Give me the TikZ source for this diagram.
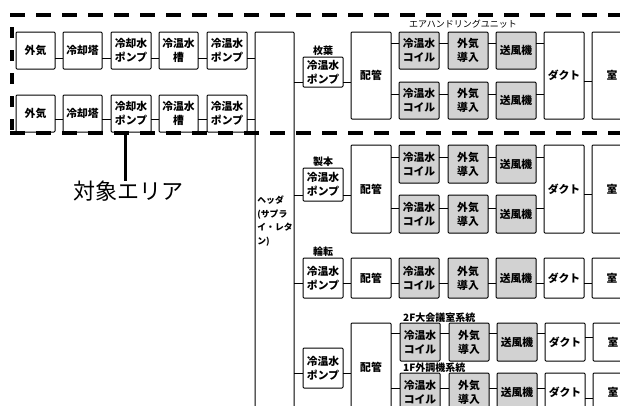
\documentclass[tikz,border=0pt]{standalone}
\usepackage{fontspec}
\newfontfamily\jp{Noto Sans CJK JP}
\tikzset{
  box/.style={draw, line width=1pt, rounded corners=1pt, inner sep=0pt, outer sep=0pt, align=center,
    font=\jp\bfseries\fontsize{10.8}{14}\selectfont},
  shd/.style={box, fill=gray!35},
  conn/.style={draw, line width=0.9pt},
  lbl/.style={inner sep=0pt, font=\jp\bfseries\fontsize{10}{12}\selectfont},
  border/.style={line width=3.5pt, dash pattern=on 15pt off 11pt},
}
\newcommand\Bx[7]{%
  \pgfmathsetmacro\bxX{(#3+#5)/2}\pgfmathsetmacro\bxY{(#4+#6)/2}%
  \pgfmathsetmacro\bxW{#5-#3}\pgfmathsetmacro\bxH{#6-#4}%
  \node[#1, minimum width=\bxW pt, minimum height=\bxH pt] (#2) at (\bxX,\bxY) {#7};}
\newcommand\Ln[3]{\draw[conn] (#1.east |- #3) -- (#2.west |- #3);}
\begin{document}
\begin{tikzpicture}[x=1pt,y=-1pt]
\useasboundingbox[fill=white] (0,0) rectangle (620,405);
% named heights
\foreach \n/\v in {a/58,b/119,c/82,d/43,e/94,f/81,g/195,h/157,i/208,j/194,k/283,l/373,m/333,n/388,o/337,p/398}
  \coordinate (Y\n) at (0,\v);
% left rows
\Bx{box}{ga1}{16}{32}{55}{69}{外気}
\Bx{box}{ct1}{63}{32}{102}{69}{冷却塔}
\Bx{box}{cp1}{111}{32}{151}{69}{冷却水\\ポンプ}
\Bx{box}{tk1}{159}{32}{198}{69}{冷温水\\槽}
\Bx{box}{hp1}{207}{32}{247}{69}{冷温水\\ポンプ}
\Bx{box}{ga2}{16}{95}{55}{132}{外気}
\Bx{box}{ct2}{63}{95}{102}{132}{冷却塔}
\Bx{box}{cp2}{111}{95}{151}{132}{冷却水\\ポンプ}
\Bx{box}{tk2}{159}{95}{198}{132}{冷温水\\槽}
\Bx{box}{hp2}{207}{95}{247}{132}{冷温水\\ポンプ}
% header
\Bx{box}{hd}{255}{32}{294}{412}{}
\node[align=left, inner sep=0pt, font=\jp\bfseries\fontsize{8.8}{13.5}\selectfont] (hdt) at ([xshift=0.5pt,yshift=1pt]hd.center) {ヘッダ\\(サプラ\\イ・レタ\\ン)};
\Ln{ga1}{ct1}{Ya}\Ln{ct1}{cp1}{Ya}\Ln{cp1}{tk1}{Ya}\Ln{tk1}{hp1}{Ya}\Ln{hp1}{hd}{Ya}
\Ln{ga2}{ct2}{Yb}\Ln{ct2}{cp2}{Yb}\Ln{cp2}{tk2}{Yb}\Ln{tk2}{hp2}{Yb}\Ln{hp2}{hd}{Yb}
% group 1
\Bx{box}{p1}{303}{57}{343}{87}{冷温水\\ポンプ}
\node[lbl, anchor=south] (l1) at ([yshift=1pt]p1.north) {枚葉};
\Bx{box}{h1}{351}{32}{391}{119}{配管}
\Bx{shd}{c1a}{399}{32}{439}{69}{冷温水\\コイル}
\Bx{shd}{o1a}{448}{32}{488}{69}{外気\\導入}
\Bx{shd}{f1a}{496}{32}{536}{69}{送風機}
\Bx{shd}{c1b}{399}{82}{439}{119}{冷温水\\コイル}
\Bx{shd}{o1b}{448}{82}{488}{119}{外気\\導入}
\Bx{shd}{f1b}{496}{82}{536}{119}{送風機}
\Bx{box}{d1}{544}{32}{584}{119}{ダクト}
\Bx{box}{r1}{592}{32}{632}{119}{室}
\node[inner sep=0pt, font=\jp\fontsize{9}{10}\selectfont] (ahu) at (463,24) {エアハンドリングユニット};
\Ln{hd}{p1}{Yc}\Ln{p1}{h1}{Yc}
\Ln{h1}{c1a}{Yd}\Ln{c1a}{o1a}{Yd}\Ln{o1a}{f1a}{Yd}\Ln{f1a}{d1}{Yd}
\Ln{h1}{c1b}{Ye}\Ln{c1b}{o1b}{Ye}\Ln{o1b}{f1b}{Ye}\Ln{f1b}{d1}{Ye}
\Ln{d1}{r1}{Yf}
% group 2
\Bx{box}{p2}{303}{168}{343}{201}{冷温水\\ポンプ}
\node[lbl, anchor=south] (l2) at ([yshift=1pt]p2.north) {製本};
\Bx{box}{h2}{351}{145}{391}{233}{配管}
\Bx{shd}{c2a}{399}{145}{439}{183}{冷温水\\コイル}
\Bx{shd}{o2a}{448}{145}{488}{183}{外気\\導入}
\Bx{shd}{f2a}{496}{145}{536}{183}{送風機}
\Bx{shd}{c2b}{399}{195}{439}{233}{冷温水\\コイル}
\Bx{shd}{o2b}{448}{195}{488}{233}{外気\\導入}
\Bx{shd}{f2b}{496}{195}{536}{233}{送風機}
\Bx{box}{d2}{544}{145}{584}{233}{ダクト}
\Bx{box}{r2}{592}{145}{632}{233}{室}
\Ln{hd}{p2}{Yg}\Ln{p2}{h2}{Yg}
\Ln{h2}{c2a}{Yh}\Ln{c2a}{o2a}{Yh}\Ln{o2a}{f2a}{Yh}\Ln{f2a}{d2}{Yh}
\Ln{h2}{c2b}{Yi}\Ln{c2b}{o2b}{Yi}\Ln{o2b}{f2b}{Yi}\Ln{f2b}{d2}{Yi}
\Ln{d2}{r2}{Yj}
% group 3
\Bx{box}{p3}{303}{258}{343}{298}{冷温水\\ポンプ}
\node[lbl, anchor=south] (l3) at ([yshift=1pt]p3.north) {輪転};
\Bx{box}{h3}{351}{258}{391}{298}{配管}
\Bx{shd}{c3}{399}{258}{439}{298}{冷温水\\コイル}
\Bx{shd}{o3}{448}{258}{488}{298}{外気\\導入}
\Bx{shd}{f3}{496}{258}{536}{298}{送風機}
\Bx{box}{d3}{544}{258}{584}{298}{ダクト}
\Bx{box}{r3}{592}{258}{632}{298}{室}
\Ln{hd}{p3}{Yk}\Ln{p3}{h3}{Yk}\Ln{h3}{c3}{Yk}\Ln{c3}{o3}{Yk}\Ln{o3}{f3}{Yk}\Ln{f3}{d3}{Yk}\Ln{d3}{r3}{Yk}
% group 4
\Bx{box}{p4}{303}{348}{343}{388}{冷温水\\ポンプ}
\Bx{box}{h4}{351}{323}{391}{412}{配管}
\Bx{shd}{c4a}{400}{323}{440}{361}{冷温水\\コイル}
\Bx{shd}{o4a}{449}{323}{489}{361}{外気\\導入}
\Bx{shd}{f4a}{497}{323}{537}{361}{送風機}
\Bx{box}{d4a}{545}{323}{585}{361}{ダクト}
\Bx{box}{r4a}{593}{323}{633}{361}{室}
\Bx{shd}{c4b}{400}{373}{440}{412}{冷温水\\コイル}
\Bx{shd}{o4b}{449}{373}{489}{412}{外気\\導入}
\Bx{shd}{f4b}{497}{373}{537}{412}{送風機}
\Bx{box}{d4b}{545}{373}{585}{412}{ダクト}
\Bx{box}{r4b}{593}{373}{633}{412}{室}
\node[lbl, anchor=west] (l4a) at (403,318) {2F大会議室系統};
\node[lbl, anchor=west] (l4b) at (403,368) {1F外調機系統};
\Ln{hd}{p4}{Yl}\Ln{p4}{h4}{Yl}
\Ln{h4}{c4a}{Ym}\Ln{c4a}{o4a}{Ym}\Ln{o4a}{f4a}{Ym}\Ln{f4a}{d4a}{Ym}\Ln{d4a}{r4a}{Yo}
\Ln{h4}{c4b}{Yn}\Ln{c4b}{o4b}{Yn}\Ln{o4b}{f4b}{Yn}\Ln{f4b}{d4b}{Yn}\Ln{d4b}{r4b}{Yp}
% target area border
\coordinate (bTL) at (10,15);
\coordinate (bTR) at (625,15);
\coordinate (bLT) at (12,27);
\coordinate (bLB) at (12,133);
\coordinate (bBL) at (10,133);
\coordinate (bBR) at (625,133);
\draw[border] (bTL) -- (bTR);
\draw[border, dash pattern=on 11pt off 12pt] (bLT) -- (bLB);
\draw[border] (bBL) -- (bBR);
% pointer
\node[inner sep=0pt, font=\jp\fontsize{22}{24}\selectfont] (tgt) at (128,191) {対象エリア};
\coordinate (tp) at (125,133);
\draw[line width=3pt] (tp) -- (tgt.north -| tp);
\end{tikzpicture}
\end{document}
